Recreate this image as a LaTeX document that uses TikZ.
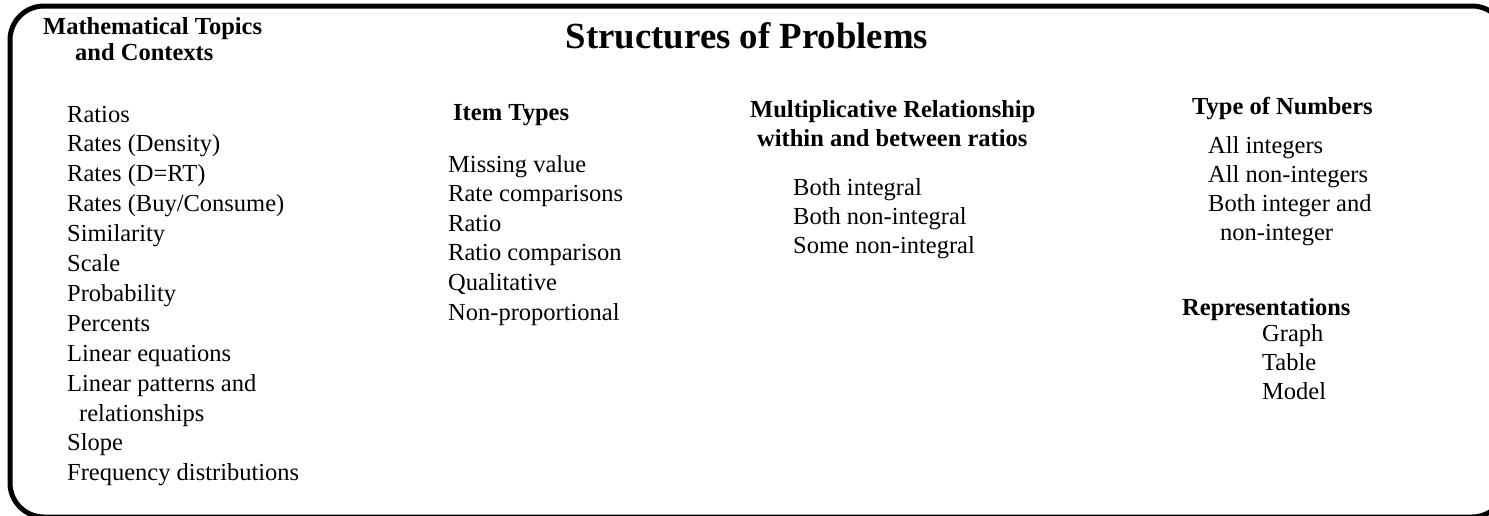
\documentclass[tikz,border=0pt]{standalone}
\usepackage{fontspec}
\setmainfont{Liberation Serif}
\usetikzlibrary{positioning}

\begin{document}
\begin{tikzpicture}[x=1pt,y=-1pt]
	\tikzstyle{entry}=[anchor=base west,inner sep=0pt,font=\fontsize{24.5}{29.4}\selectfont]
	\tikzstyle{heading}=[entry,font=\fontsize{24.5}{29.4}\selectfont\bfseries]
	\tikzstyle{title}=[anchor=base,inner sep=0pt,font=\fontsize{36.8}{44}\selectfont\bfseries]
	\tikzstyle{frame}=[draw=black,line width=5pt,rounded corners=34pt]
	
	% Fix the page size
	\useasboundingbox (0,0) rectangle (1489,515);
	
	% Draw the outer frame (its right and bottom sides run off the page)
	\begin{scope}
	\clip (0,0) rectangle (1489,515);
	\path[frame] (10,6) rectangle (1506,517);
	\end{scope}
	
	% Draw the title
	\node[title] (title) at (747,48) {Structures of Problems};
	
	% Draw the topics column
	\node[heading] (T-head) at (43,34) {Mathematical Topics};
	\node[heading] (T-head2) at (75,60) {and Contexts};
	\foreach \name / \x / \y / \label in {1/67/122/Ratios, 2/67/151.9/{Rates (Density)},
		3/67/181.8/{Rates (D=RT)}, 4/67/211.7/{Rates (Buy/Consume)}, 5/67/241.6/Similarity,
		6/67/271.5/Scale, 7/67/301.4/Probability, 8/67/331.3/Percents,
		9/67/361.2/{Linear equations}, 10/67/391.1/{Linear patterns and},
		11/79/421/relationships, 12/67/450.9/Slope, 13/67/480.8/{Frequency distributions}}
	\node[entry] (T-\name) at (\x,\y) {\label};
	
	% Draw the item types column
	\node[heading] (I-head) at (453,120) {Item Types};
	\foreach \name / \y / \label in {1/172/{Missing value}, 2/201.6/{Rate comparisons},
		3/231.2/Ratio, 4/260.8/{Ratio comparison}, 5/290.4/Qualitative, 6/320/Non-proportional}
	\node[entry] (I-\name) at (448,\y) {\label};
	
	% Draw the relationship column
	\node[heading] (R-head) at (750,117) {Multiplicative Relationship};
	\node[heading] (R-head2) at (757,146) {within and between ratios};
	\foreach \name / \y / \label in {1/195/{Both integral}, 2/224.4/{Both non-integral},
		3/253.8/{Some non-integral}}
	\node[entry] (R-\name) at (793,\y) {\label};
	
	% Draw the type of numbers column
	\node[heading] (N-head) at (1192,114) {Type of Numbers};
	\foreach \name / \x / \y / \label in {1/1208/153/{All integers}, 2/1208/182/{All non-integers},
		3/1208/211/{Both integer and}, 4/1220/240.2/non-integer}
	\node[entry] (N-\name) at (\x,\y) {\label};
	
	% Draw the representations
	\node[heading] (P-head) at (1182,315) {Representations};
	\foreach \name / \y / \label in {1/341/Graph, 2/370/Table, 3/399/Model}
	\node[entry] (P-\name) at (1262,\y) {\label};
\end{tikzpicture}
\end{document}
